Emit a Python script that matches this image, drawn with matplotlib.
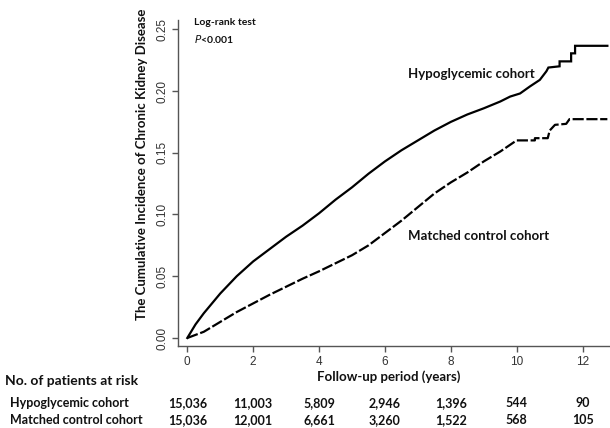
import matplotlib
matplotlib.use("Agg")
import matplotlib.pyplot as plt
import matplotlib.transforms as mtransforms

# follow-up time (years) and cumulative incidence
hypo_t = [0, 0.25, 0.5, 1.0, 1.5, 2.0, 2.5, 3.0, 3.5, 4.0, 4.5, 5.0, 5.5, 6.0,
          6.5, 7.0, 7.5, 8.0, 8.5, 9.0, 9.5, 9.8, 10.1, 10.4, 10.7, 10.9,
          10.96, 11.3, 11.3, 11.65, 11.65, 11.77, 11.77, 12.75]
hypo_ci = [0, 0.011, 0.020, 0.036, 0.050, 0.062, 0.072, 0.082, 0.091, 0.101,
           0.112, 0.122, 0.133, 0.143, 0.152, 0.160, 0.168, 0.175, 0.181,
           0.186, 0.1915, 0.1955, 0.198, 0.2037, 0.209, 0.216,
           0.219, 0.220, 0.224, 0.224, 0.2305, 0.2305, 0.2366, 0.2366]

ctrl_t = [0, 0.5, 1.0, 1.5, 2.0, 2.5, 3.0, 3.5, 4.0, 4.5, 5.0, 5.5, 6.0, 6.5,
          7.0, 7.5, 8.0, 8.5, 9.0, 9.5, 9.94, 10.0, 10.55, 10.55, 10.94,
          11.0, 11.16, 11.5, 11.6, 12.75]
ctrl_ci = [0, 0.005, 0.013, 0.021, 0.028, 0.035, 0.0415, 0.048, 0.054, 0.0605,
           0.067, 0.075, 0.085, 0.095, 0.106, 0.117, 0.126, 0.134, 0.143,
           0.151, 0.159, 0.160, 0.160, 0.1618, 0.1618,
           0.168, 0.1726, 0.1734, 0.1772, 0.1772]

# numbers at risk
risk_years = [0, 2, 4, 6, 8, 10, 12]
risk_hypo = ["15,036", "11,003", "5,809", "2,946", "1,396", "544", "90"]
risk_ctrl = ["15,036", "12,001", "6,661", "3,260", "1,522", "568", "105"]

x_ticks = [0, 2, 4, 6, 8, 10, 12]
y_ticks = [0.00, 0.05, 0.10, 0.15, 0.20, 0.25]

bold = dict(family="Lato", fontweight="bold", color="#111111")

fig = plt.figure(figsize=(6.1, 4.28), dpi=100)
ax = fig.add_axes([178 / 610, 82 / 428, 432 / 610, 326 / 428])

ax.plot(hypo_t, hypo_ci, color="black", lw=1.6, solid_joinstyle="miter")
ax.plot(ctrl_t, ctrl_ci, color="black", lw=1.6, dashes=(5, 1.2))

ax.set_xlim(-0.282, 12.83)
ax.set_ylim(-0.0065, 0.2575)
ax.spines["top"].set_visible(False)
ax.spines["right"].set_visible(False)
for s in ("left", "bottom"):
    ax.spines[s].set_color("#555555")
    ax.spines[s].set_linewidth(1.0)

ax.set_xticks(x_ticks)
ax.set_xticklabels([str(v) for v in x_ticks])
ax.set_yticks(y_ticks)
ax.set_yticklabels(["%.2f" % v for v in y_ticks])
ax.tick_params(axis="both", length=4, width=1.0, color="#555555",
               labelsize=8.5, labelcolor="#333333")
ax.tick_params(axis="y", labelrotation=90, pad=3)
for lab in ax.get_yticklabels():
    lab.set_va("center")
    lab.set_family("Liberation Sans")
for lab in ax.get_xticklabels():
    lab.set_family("Liberation Sans")

# annotations inside the plot
ax.text(0.2, 0.2555, "Log-rank test", fontsize=7.5, va="center", **bold)
ax.text(0.2, 0.2425, "$\\mathit{P}$<0.001", fontsize=7.5, va="center", **bold)
ax.text(6.69, 0.2138, "Hypoglycemic cohort", fontsize=9.5, va="center", **bold)
ax.text(6.69, 0.0826, "Matched control cohort", fontsize=9.5, va="center", **bold)

# axis titles
fig.text(142 / 610, 1 - 164 / 428,
         "The Cumulative Incidence of Chronic Kidney Disease",
         rotation=90, ha="center", va="center", fontsize=9.5, **bold)
fig.text(389 / 610, 1 - 377 / 428, "Follow-up period (years)",
         ha="center", va="center", fontsize=9.5, **bold)

# risk table
fig.text(5 / 610, 1 - 381 / 428, "No. of patients at risk",
         ha="left", va="center", fontsize=10, **bold)
fig.text(10 / 610, 1 - 403 / 428, "Hypoglycemic cohort",
         ha="left", va="center", fontsize=9, **bold)
fig.text(10 / 610, 1 - 420 / 428, "Matched control cohort",
         ha="left", va="center", fontsize=9, **bold)
trans = mtransforms.blended_transform_factory(ax.transData, fig.transFigure)
for yr, a, b in zip(risk_years, risk_hypo, risk_ctrl):
    ax.text(yr, 1 - 403 / 428, a, transform=trans, ha="center", va="center",
            fontsize=9, clip_on=False, **bold)
    ax.text(yr, 1 - 420 / 428, b, transform=trans, ha="center", va="center",
            fontsize=9, clip_on=False, **bold)

fig.savefig("out.png", dpi=100)
